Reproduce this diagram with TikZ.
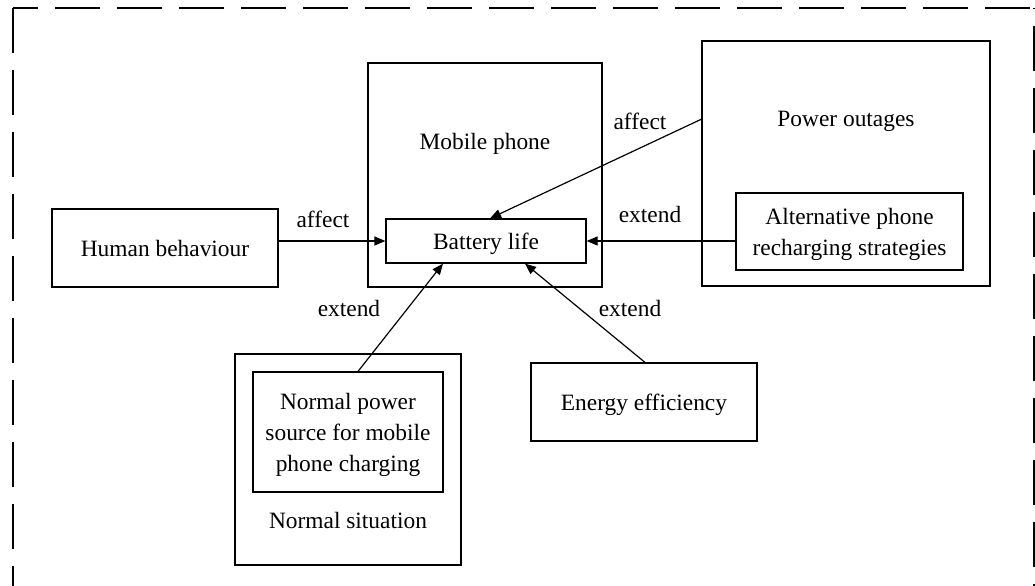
\documentclass[tikz,border=0pt]{standalone}
\usepackage{fontspec}
\setmainfont{Liberation Serif}
\usepackage{tikz}
\usetikzlibrary{arrows.meta,calc}

\begin{document}
\begin{tikzpicture}[x=0.5pt,y=-0.5pt,>={Triangle[length=5.5pt,width=4.5pt]},
  font=\fontsize{11.7}{15.5}\selectfont,line width=0.6pt,
  box/.style={draw,inner sep=0pt,align=center,text depth=0pt},
  title/.style={anchor=base,inner sep=0pt},
  frame/.style={dash pattern=on 22.5pt off 8.5pt}]
  \useasboundingbox (0,0) rectangle (1035,585);
  \clip (0,0) rectangle (1035,585);
  % dashed outer border
  \draw[frame,dash phase=10pt] (13,8) -- (1040,8);
  \draw[frame] (13,8) -- (13,600);
  \draw[frame,dash phase=22pt] (1034,8) -- (1034,600);
  % containers
  \node[box,minimum width=117pt,minimum height=112pt] (mob) at (485,175) {};
  \node[title] (mobtxt) at (485,149) {Mobile phone};
  \node[box,minimum width=144pt,minimum height=122.5pt] (pow) at (846,163.5) {};
  \node[title] (powtxt) at (846,126) {Power outages};
  \node[box,minimum width=113pt,minimum height=105.5pt] (nsit) at (348,459.5) {};
  \node[title] (nsittxt) at (348,528) {Normal situation};
  % boxes
  \node[box,minimum width=100pt,minimum height=22pt] (bat) at (486,241) {Battery life};
  \node[box,minimum width=113pt,minimum height=39pt] (hum) at (165,248) {Human behaviour};
  \node[box,minimum width=113.5pt,minimum height=38.5pt] (alt) at (849.5,231.5) {Alternative phone\\recharging strategies};
  \node[box,minimum width=95pt,minimum height=60pt] (nps) at (348,432) {Normal power\\source for mobile\\phone charging};
  \node[box,minimum width=113pt,minimum height=39pt] (eng) at (644,402) {Energy efficiency};
  % connectors
  \draw[->] (bat.west -| hum.east) -- (bat.west);
  \draw[->] (bat.east -| alt.west) -- (bat.east);
  \draw[->] ($(pow.north west)!0.32!(pow.south west)$) -- ([xshift=2pt]bat.north);
  \draw[->] ([xshift=5pt]nps.north) -- ([xshift=-21.5pt]bat.south);
  \draw[->] ([xshift=0.5pt]eng.north) -- ([xshift=19.5pt]bat.south);
  % labels
  \node[title] (humlbl) at (323,227) {affect};
  \node[title] (powlbl) at (640,129) {affect};
  \node[title] (altlbl) at (650,222) {extend};
  \node[title] (npslbl) at (349,316) {extend};
  \node[title] (englbl) at (630,316) {extend};
\end{tikzpicture}
\end{document}
